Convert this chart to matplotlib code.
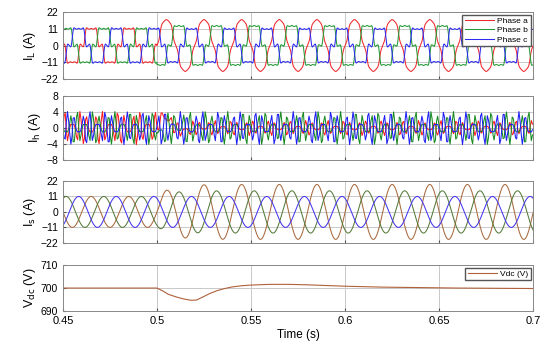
import numpy as np
import matplotlib
matplotlib.use("Agg")
import matplotlib.pyplot as plt

plt.rcParams["font.family"] = ["Liberation Sans", "DejaVu Sans"]

# --- values ------------------------------------------------------------
f_grid = 50.0                      # Hz
t_step = 0.5                       # load change instant (s)
phase_shift = [0.0, -120.0, 120.0]  # a, b, c (deg)
phase_names = ["Phase a", "Phase b", "Phase c"]

# load current: fundamental peak before / after the step (A)
load_fund_pre = [12.1, 12.1, 12.1]
load_fund_post = [17.4, 14.0, 11.9]
# harmonic content (order, amplitude in A) and per-phase scale after step
harm_order = [5, 7, 11, 13]
harm_amp = [-2.42, -1.73, 0.40, 0.25]
harm_scale_post = [0.45, 1.0, 1.0]

# source current peaks before / after (A)
src_pre = [11.0, 11.0, 11.0]
src_post = [19.5, 15.0, 11.0]
src_lag_deg = 0.0
settle_tau = 0.007                 # s

# dc-link voltage samples (s, V)
vdc_t = [0.45, 0.47, 0.49, 0.50, 0.503, 0.506, 0.51, 0.514, 0.518, 0.521,
         0.524, 0.528, 0.532, 0.536, 0.54, 0.545, 0.55, 0.56, 0.57, 0.58,
         0.59, 0.60, 0.62, 0.64, 0.66, 0.68, 0.70]
vdc_v = [700.0, 700.0, 700.0, 700.0, 698.8, 697.3, 696.2, 695.3, 694.7, 694.8,
         696.0, 697.6, 698.9, 699.8, 700.5, 701.0, 701.3, 701.6, 701.6, 701.4,
         701.1, 700.8, 700.4, 700.2, 700.0, 699.9, 699.8]

xticks = [0.45, 0.5, 0.55, 0.6, 0.65, 0.7]
c_load = ["#f0282d", "#229a35", "#2a2af0"]
c_harm = ["#ff1a1a", "#178a22", "#1e1ef5"]
c_src = ["#a86a3e", "#557a3a", "#4636ee"]
c_vdc = "#b0603a"


def ramp(t, a0, a1):
    k = np.clip(t - t_step, 0, None)
    post = a0 + (a1 - a0) * (1 - np.exp(-k / settle_tau))
    return np.where(t < t_step, a0, post)


def load_current(t, k):
    th = 2 * np.pi * f_grid * t + np.deg2rad(phase_shift[k])
    amp = np.where(t < t_step, load_fund_pre[k], load_fund_post[k])
    hs = np.where(t < t_step, 1.0, harm_scale_post[k])
    i = amp * np.sin(th)
    for n, h in zip(harm_order, harm_amp):
        i = i + hs * h * np.sin(n * th)
    return i


def source_current(t, k):
    th = 2 * np.pi * f_grid * t + np.deg2rad(phase_shift[k] + src_lag_deg)
    return ramp(t, src_pre[k], src_post[k]) * np.sin(th)


def harm_current(t, k):
    th = 2 * np.pi * f_grid * t + np.deg2rad(phase_shift[k])
    est = ramp(t, load_fund_pre[k], load_fund_post[k])
    return load_current(t, k) - est * np.sin(th)


t = np.arange(0.45, 0.7 + 1e-6, 2e-5)
t_h = np.arange(0.45, 0.7 + 1e-6, 6e-4)

fig = plt.figure(figsize=(5.5, 3.48), dpi=100)
L, W = 0.1145, 0.855
boxes = [(0.773, 0.1925), (0.540, 0.184), (0.302, 0.178), (0.106, 0.1325)]
axes = [fig.add_axes([L, b, W, h]) for b, h in boxes]

for k in range(3):
    axes[0].plot(t, load_current(t, k), color=c_load[k], lw=0.75, label=phase_names[k])
    axes[1].plot(t_h, harm_current(t_h, k), color=c_harm[k], lw=0.75)
    axes[2].plot(t, source_current(t, k), color=c_src[k], lw=0.75)
axes[3].plot(vdc_t, vdc_v, color=c_vdc, lw=0.8, label="Vdc (V)")

ylims = [(-22, 22), (-8, 8), (-22, 22), (690, 710)]
yt = [[-22, -11, 0, 11, 22], [-8, -4, 0, 4, 8], [-22, -11, 0, 11, 22], [690, 700, 710]]
ylabels = [r"I$_{\rm L}$ (A)", r"I$_{\rm h}$ (A)", r"I$_{\rm s}$ (A)", r"V$_{\rm dc}$ (V)"]

for ax, yl, ticks, lab in zip(axes, ylims, yt, ylabels):
    ax.set_xlim(0.45, 0.7)
    ax.set_ylim(*yl)
    ax.set_xticks(xticks)
    ax.set_yticks(ticks)
    ax.grid(True, color="#c8c8c8", lw=0.7)
    ax.set_axisbelow(True)
    ax.tick_params(direction="in", length=2.5, labelsize=7.5, color="#555555")
    for s in ax.spines.values():
        s.set_color("#888888")
        s.set_linewidth(0.7)
    ax.set_ylabel(lab, fontsize=9, labelpad=2)
    if ax is not axes[3]:
        ax.tick_params(labelbottom=False)

axes[3].set_xticklabels(["0.45", "0.5", "0.55", "0.6", "0.65", "0.7"], fontsize=8)
axes[3].set_xlabel("Time (s)", fontsize=8.5, labelpad=2)

leg_kw = dict(fontsize=6, framealpha=1, edgecolor="#555555", fancybox=False,
              borderpad=0.3, labelspacing=0.2, handlelength=3.5, handletextpad=0.4,
              borderaxespad=0.3)
axes[0].legend(loc="upper right", **leg_kw)
axes[3].legend(loc="upper right", **leg_kw)

fig.savefig("out.png", dpi=100)
